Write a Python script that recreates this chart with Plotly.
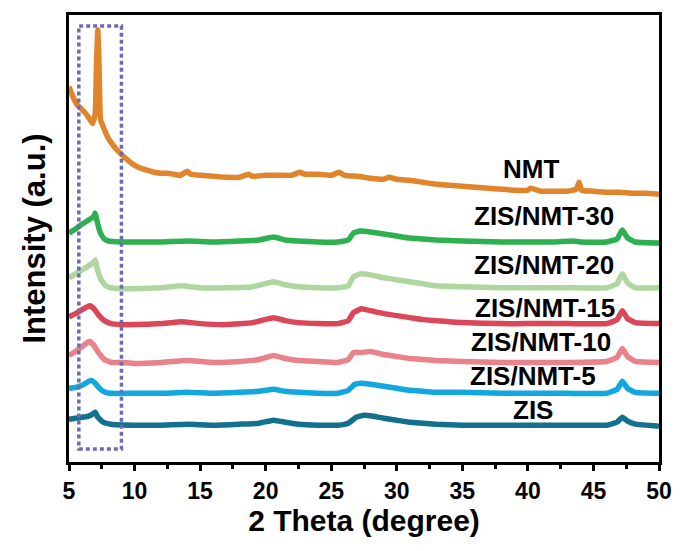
import plotly.graph_objects as go

# XRD patterns (2θ in degrees, stacked intensity in a.u.)
nmt_x = [5.0, 5.3, 5.6, 6.0, 6.4, 6.8, 7.0, 7.1, 7.2, 7.3, 7.4, 7.6, 8.0, 8.5, 9.0, 9.5,
         10.0, 10.5, 11.0, 11.5, 12.0, 12.5, 13.0, 13.5, 14.0, 14.3, 15, 16, 17, 18, 18.7,
         19, 20, 21, 22, 22.6, 23, 24, 25, 25.6, 26, 27, 28, 29, 29.4, 30, 31, 32, 33, 34,
         35, 36, 37, 38, 39, 40, 40.2, 41, 42, 43, 43.7, 43.9, 44.1, 45, 46, 47, 48, 49, 50]
nmt_y = [377, 367, 359, 354, 348, 340, 350, 402, 434, 392, 344, 337, 325, 316, 309, 303,
         298, 295, 293, 291, 290, 290, 289, 288, 292, 289, 288, 287, 286, 286, 289,
         287, 288, 288, 288, 291, 289, 289, 288, 291, 288, 287, 285, 284, 286, 284, 283, 281, 279, 278,
         277, 276, 275, 274, 273, 273, 275, 272, 272, 272, 274, 281, 273, 272, 271, 271, 270, 270, 269]

zn30_x = [5.0, 5.5, 6.0, 6.5, 6.9, 7.0, 7.1, 7.4, 7.7, 8.0, 9, 10, 12, 14, 16, 18, 19.5, 20.6,
          21.5, 22.5, 24, 25.5, 26.3, 26.7, 27.2, 28, 29, 30, 31, 32, 33, 35, 38, 40, 42, 43.5,
          44, 46, 46.8, 47.2, 47.6, 48.2, 50]
zn30_y = [230, 234, 239, 243, 247, 250, 244, 230, 224, 222, 221, 221, 221, 222, 221, 222, 223, 226,
          223, 222, 221, 221, 223, 230, 232, 231, 229, 227, 225, 224, 223, 222, 221, 221, 221, 222,
          221, 221, 224, 233, 225, 221, 220]

zn20_x = [5.0, 5.5, 6.0, 6.5, 6.9, 7.0, 7.1, 7.4, 7.8, 8.2, 9, 10, 12, 13.6, 15, 17, 19, 20.6,
          21.5, 22.5, 24, 25.5, 26.3, 26.7, 27.2, 28, 29, 30, 31, 32, 33, 35, 38, 40, 43, 46,
          46.8, 47.2, 47.6, 48.2, 50]
zn20_y = [185, 189, 193, 197, 201, 203, 197, 184, 177, 175, 174, 174, 175, 177, 175, 175, 176, 181,
          178, 176, 175, 175, 177, 186, 189, 188, 185, 183, 181, 179, 177, 176, 175, 175, 175, 175,
          179, 189, 180, 175, 175]

zn15_x = [5.0, 5.5, 6.0, 6.4, 6.6, 6.9, 7.3, 7.7, 8.2, 9, 10, 12, 13.6, 15, 17, 19, 20.6,
          21.5, 22.5, 24, 25.5, 26.3, 26.7, 27.3, 28, 29, 30, 31, 32, 33, 35, 38, 40, 43, 46,
          46.8, 47.2, 47.6, 48.2, 50]
zn15_y = [146, 149, 153, 156, 157, 154, 147, 142, 139, 138, 138, 139, 141, 139, 138, 140, 145,
          142, 140, 139, 139, 142, 150, 154, 152, 149, 147, 145, 143, 142, 140, 139, 139, 139, 139,
          143, 152, 144, 140, 139]

zn10_x = [5.0, 5.5, 6.0, 6.4, 6.6, 6.9, 7.3, 7.7, 8.2, 9, 10, 12, 14, 16, 18, 19.5, 20.6,
          21.5, 22.5, 24, 25.5, 26.3, 26.7, 27.3, 28, 29, 30, 31, 32, 33, 35, 38, 40, 43, 46,
          46.8, 47.2, 47.6, 48.2, 50]
zn10_y = [107, 111, 116, 120, 121, 117, 109, 103, 100, 100, 99, 100, 102, 100, 101, 103, 107,
          104, 102, 101, 100, 103, 110, 110, 111, 108, 106, 104, 103, 102, 101, 100, 100, 100, 101,
          105, 114, 106, 101, 100]

zn5_x = [5.0, 5.5, 6.0, 6.5, 6.7, 7.0, 7.4, 7.8, 8.2, 10, 12, 14, 16, 18, 19.5, 20.6,
         21.5, 22.5, 24, 25.5, 26.3, 26.8, 27.3, 28, 29, 30, 31, 32, 33, 35, 38, 40, 43, 46,
         46.8, 47.2, 47.6, 48.2, 50]
zn5_y = [74, 75, 77, 81, 82, 79, 73, 70, 69, 69, 69, 70, 69, 70, 71, 73,
         71, 70, 69, 69, 72, 78, 79, 78, 76, 74, 72, 71, 70, 70, 69, 69, 69, 69,
         73, 81, 74, 70, 69]

zis_x = [5.0, 5.5, 6.0, 6.5, 6.9, 7.0, 7.2, 7.6, 8.2, 10, 12, 14, 16, 18, 19.5, 20.6,
         21.5, 22.5, 24, 25.5, 26.3, 26.9, 27.5, 28.2, 29, 30, 31, 32, 33, 35, 38, 40, 43, 46,
         46.8, 47.2, 47.6, 48.2, 50]
zis_y = [43, 44, 45, 46, 49, 50, 45, 40, 38, 37, 37, 38, 37, 38, 39, 42,
         40, 38, 37, 37, 39, 45, 47, 46, 44, 42, 40, 39, 38, 37, 37, 37, 37, 37,
         40, 45, 41, 38, 36]

names = ["NMT", "ZIS/NMT-30", "ZIS/NMT-20", "ZIS/NMT-15", "ZIS/NMT-10", "ZIS/NMT-5", "ZIS"]
colors = ["#E0852C", "#2DB04F", "#AED69E", "#DB4659", "#E9828B", "#12A8DF", "#13708E"]
xs = [nmt_x, zn30_x, zn20_x, zn15_x, zn10_x, zn5_x, zis_x]
ys = [nmt_y, zn30_y, zn20_y, zn15_y, zn10_y, zn5_y, zis_y]

# label anchor positions (2θ, intensity)
label_x = [40.2, 41.2, 41.2, 41.3, 41.0, 40.4, 40.4]
label_y = [294, 247, 198, 155, 121, 86, 52]

# highlighted low-angle region
box_x0, box_x1 = 5.75, 9.0
box_y0, box_y1 = 13, 438

fig = go.Figure()
for x, y, n, c in zip(xs, ys, names, colors):
    fig.add_trace(go.Scatter(x=x, y=y, mode="lines", name=n,
                             line=dict(color=c, width=5.5, shape="spline", smoothing=0.35)))

for n, lx, ly in zip(names, label_x, label_y):
    fig.add_annotation(x=lx, y=ly, text=n, showarrow=False,
                       font=dict(family="Liberation Sans, Arial", size=26, color="black",
                                 weight="bold"))

fig.add_shape(type="rect", x0=box_x0, x1=box_x1, y0=box_y0, y1=box_y1,
              line=dict(color="#6B6BB8", width=3.5, dash="4px,3px"))

fig.update_layout(
    width=684, height=551,
    margin=dict(l=69, r=18, t=13, b=89),
    plot_bgcolor="white", paper_bgcolor="white",
    showlegend=False,
    font=dict(family="Liberation Sans, Arial", color="black"),
)
fig.update_xaxes(
    range=[5, 50], tickmode="array", tickvals=list(range(5, 51, 5)),
    ticks="outside", ticklen=6, tickwidth=3, tickcolor="black",
    minor=dict(ticks="outside", ticklen=4, tickwidth=2.5, tickcolor="black", dtick=2.5),
    showline=True, linewidth=3, linecolor="black", mirror=True,
    showgrid=False, zeroline=False,
    tickfont=dict(size=23, weight="bold"),
    title=dict(text="2 Theta (degree)", font=dict(size=30, weight="bold"), standoff=6),
)
fig.update_yaxes(
    range=[0, 449], showticklabels=False, ticks="",
    showline=True, linewidth=3, linecolor="black", mirror=True,
    showgrid=False, zeroline=False,
    title=dict(text="Intensity (a.u.)", font=dict(size=31, weight="bold"), standoff=12),
)

fig.write_html("out.html")
